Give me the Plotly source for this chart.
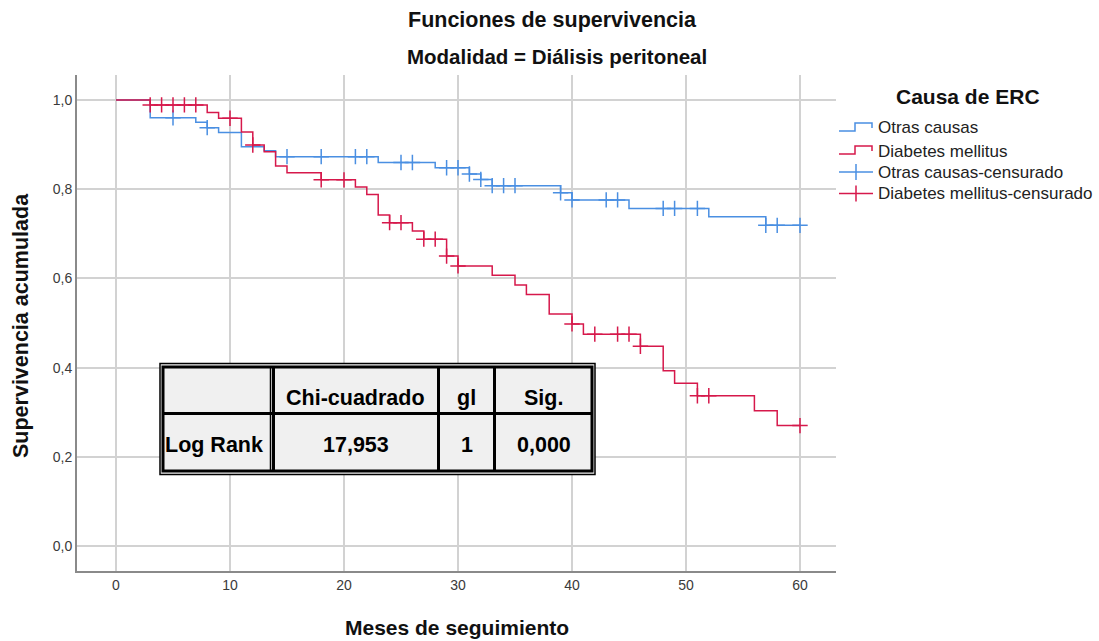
import numpy as np
import plotly.graph_objects as go

# ---------------- data ----------------
otras_t = [0, 3, 7, 8, 9, 11, 13, 14, 23, 28, 31, 32, 33, 39, 40, 45, 52, 57, 60]
otras_s = [1.0, 0.960, 0.950, 0.938, 0.927, 0.895, 0.886, 0.873, 0.860, 0.848, 0.834,
           0.822, 0.808, 0.792, 0.776, 0.757, 0.738, 0.719, 0.719]
otras_cens = [5, 8, 15, 18, 21, 22, 25, 26, 29, 30, 31, 32, 33, 34, 35, 39, 40, 43, 44,
              48, 49, 51, 57, 58, 60]

dm_t = [0, 3, 8, 9, 11, 12, 13, 14, 15, 18, 21, 22, 23, 24, 26, 27, 29, 30, 33, 35, 36,
        38, 40, 41, 46, 48, 49, 51, 56, 58, 60]
dm_s = [1.0, 0.989, 0.972, 0.959, 0.928, 0.899, 0.884, 0.852, 0.837, 0.821, 0.805, 0.788,
        0.742, 0.725, 0.706, 0.688, 0.650, 0.628, 0.607, 0.585, 0.564, 0.520, 0.498, 0.475,
        0.448, 0.393, 0.365, 0.337, 0.303, 0.270, 0.270]
dm_cens = [3, 4, 5, 6, 7, 10, 12, 18, 20, 24, 25, 27, 28, 29, 30, 40, 42, 44, 45, 46, 51,
           52, 60]

x_ticks = [0, 10, 20, 30, 40, 50, 60]
y_ticks = [0.0, 0.2, 0.4, 0.6, 0.8, 1.0]

legend_labels = ["Otras causas", "Diabetes mellitus",
                 "Otras causas-censurado", "Diabetes mellitus-censurado"]
table_header = ["", "Chi-cuadrado", "gl", "Sig."]
table_row = ["Log Rank", "17,953", "1", "0,000"]

BLUE = "#4a8fe2"
RED = "#d6184b"
FONT = "Liberation Sans, Arial, sans-serif"


def step_value(ts, ss, t):
    idx = np.searchsorted(np.array(ts), t, side="right") - 1
    return ss[idx]


# ---------------- layout geometry (pixels) ----------------
W, H = 1099, 641
L, R, T, B = 77, 263, 75, 70
PW, PH = W - L - R, H - T - B


def px(x):
    return (x - L) / PW


def py(y):
    return (H - B - y) / PH


fig = go.Figure()

fig.add_trace(go.Scatter(x=otras_t, y=otras_s, mode="lines", line=dict(color=BLUE, width=1.5, shape="hv"),
                         showlegend=False, hoverinfo="skip"))
fig.add_trace(go.Scatter(x=dm_t, y=dm_s, mode="lines", line=dict(color=RED, width=1.5, shape="hv"),
                         showlegend=False, hoverinfo="skip"))
fig.add_trace(go.Scatter(x=otras_cens, y=[step_value(otras_t, otras_s, t) for t in otras_cens],
                         mode="markers",
                         marker=dict(symbol="cross-thin", size=11, line=dict(color=BLUE, width=1.5)),
                         showlegend=False, hoverinfo="skip"))
fig.add_trace(go.Scatter(x=dm_cens, y=[step_value(dm_t, dm_s, t) for t in dm_cens],
                         mode="markers",
                         marker=dict(symbol="cross-thin", size=11, line=dict(color=RED, width=1.5)),
                         showlegend=False, hoverinfo="skip"))

shapes = []
annotations = []

# ---------- custom legend ----------
annotations.append(dict(text="<b>Causa de ERC</b>", x=px(968), y=py(96), xref="paper", yref="paper",
                        showarrow=False, xanchor="center", yanchor="middle",
                        font=dict(family=FONT, size=21, color="#111")))
leg_y = [128, 151, 172, 194]
for i, col in enumerate([BLUE, RED]):
    base = [131, 154][i]
    path = "M {a},{b} L {c},{b} L {c},{d} L {e},{d} L {e},{f}".format(
        a=px(839), b=py(base), c=px(855), d=py(base - 8), e=px(872), f=py(base - 3))
    shapes.append(dict(type="path", path=path, xref="paper", yref="paper",
                       line=dict(color=col, width=1.5)))
for i, col in enumerate([BLUE, RED]):
    yc = [172, 193.5][i]
    shapes.append(dict(type="line", x0=px(839), x1=px(873), y0=py(yc), y1=py(yc), xref="paper",
                       yref="paper", line=dict(color=col, width=1.5)))
    shapes.append(dict(type="line", x0=px(856), x1=px(856), y0=py(yc - 8), y1=py(yc + 8),
                       xref="paper", yref="paper", line=dict(color=col, width=1.5)))
for lab, yy in zip(legend_labels, leg_y):
    annotations.append(dict(text=lab, x=px(876), y=py(yy), xref="paper", yref="paper",
                            showarrow=False, xanchor="left", yanchor="middle",
                            font=dict(family=FONT, size=17, color="#222")))

# ---------- table ----------
tx0, tx1, ty0, ty1 = 160, 595, 363.5, 474.5
shapes.append(dict(type="rect", x0=px(tx0), x1=px(tx1), y0=py(ty0), y1=py(ty1), xref="paper",
                   yref="paper", fillcolor="#f0f0f0", line=dict(color="black", width=1.5),
                   layer="above"))
shapes.append(dict(type="rect", x0=px(163), x1=px(592), y0=py(367), y1=py(471), xref="paper",
                   yref="paper", fillcolor="rgba(0,0,0,0)", line=dict(color="black", width=3),
                   layer="above"))
for xv, wd in [(270.5, 1.5), (273.5, 3), (438.5, 3), (494.5, 3)]:
    shapes.append(dict(type="line", x0=px(xv), x1=px(xv), y0=py(367), y1=py(471), xref="paper",
                       yref="paper", line=dict(color="black", width=wd), layer="above"))
shapes.append(dict(type="line", x0=px(163), x1=px(592), y0=py(413.5), y1=py(413.5), xref="paper",
                   yref="paper", line=dict(color="black", width=3), layer="above"))
col_cx = [163, 355.5, 466.5, 543.5]
for j, (h, v) in enumerate(zip(table_header, table_row)):
    if h:
        annotations.append(dict(text="<b>%s</b>" % h, x=px(col_cx[j]), y=py(398), xref="paper",
                                yref="paper", showarrow=False, xanchor="center", yanchor="middle",
                                font=dict(family=FONT, size=21.5, color="black")))
    annotations.append(dict(text="<b>%s</b>" % v, x=px(col_cx[j]), y=py(445), xref="paper",
                            yref="paper", showarrow=False,
                            xanchor="left" if j == 0 else "center", yanchor="middle",
                            font=dict(family=FONT, size=21.5, color="black")))

# ---------- titles ----------
annotations.append(dict(text="<b>Funciones de supervivencia</b>", x=px(552.5), y=py(20),
                        xref="paper", yref="paper", showarrow=False, xanchor="center",
                        yanchor="middle", font=dict(family=FONT, size=21.5, color="#111")))
annotations.append(dict(text="<b>Modalidad = Diálisis peritoneal</b>", x=px(556.5), y=py(57),
                        xref="paper", yref="paper", showarrow=False, xanchor="center",
                        yanchor="middle", font=dict(family=FONT, size=20.5, color="#111")))
annotations.append(dict(text="<b>Meses de seguimiento</b>", x=px(456.5), y=py(627),
                        xref="paper", yref="paper", showarrow=False, xanchor="center",
                        yanchor="middle", font=dict(family=FONT, size=21, color="#111")))
annotations.append(dict(text="<b>Supervivencia acumulada</b>", x=px(21), y=py(326),
                        xref="paper", yref="paper", showarrow=False, xanchor="center",
                        yanchor="middle", textangle=-90,
                        font=dict(family=FONT, size=21.5, color="#111")))

fig.update_layout(
    width=W, height=H, margin=dict(l=L, r=R, t=T, b=B, pad=0),
    plot_bgcolor="white", paper_bgcolor="white",
    separators=",.",
    shapes=shapes, annotations=annotations, showlegend=False,
    font=dict(family=FONT, size=14, color="#333"),
)
fig.update_xaxes(range=[-39 / 11.4, 720 / 11.4], tickvals=x_ticks, showgrid=True,
                 gridcolor="#d2d2d2", gridwidth=1.6, zeroline=False, showline=True,
                 linecolor="#8a8a8a", linewidth=2, ticks="", tickfont=dict(size=14, color="#3a3a3a"),
                 fixedrange=True)
fig.update_yaxes(range=[-25 / 446, 1 + 25 / 446], tickvals=y_ticks, tickformat=".1f",
                 showgrid=True, gridcolor="#d2d2d2", gridwidth=1.6, zeroline=False, showline=True,
                 linecolor="#8a8a8a", linewidth=2, ticks="", tickfont=dict(size=14, color="#3a3a3a"),
                 fixedrange=True)

fig.write_html("out.html", config={"displayModeBar": False},
               post_script="document.body.style.margin='0';document.body.style.overflow='hidden';")
